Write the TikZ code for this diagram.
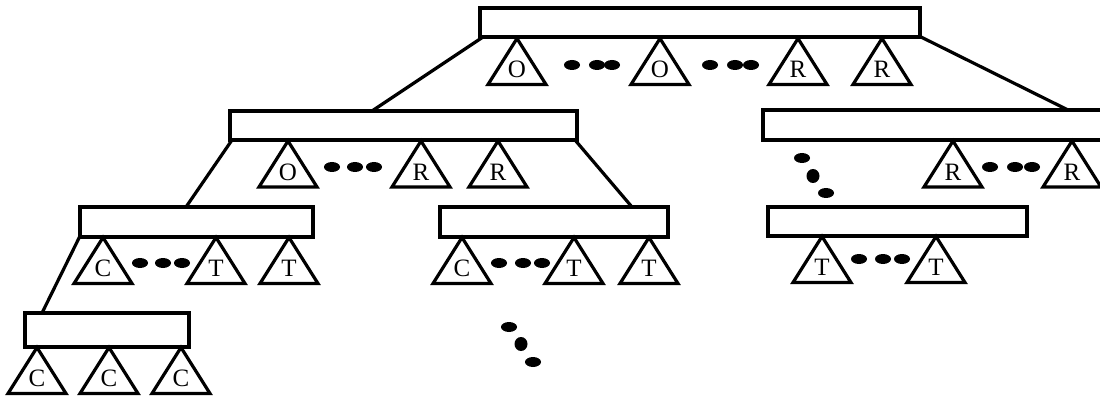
\documentclass[tikz,border=0pt]{standalone}
\usepackage{fontspec}
\setmainfont{Liberation Serif}
\usetikzlibrary{calc}
\tikzset{
  boxn/.style={draw, line width=3.2pt, fill=white, inner sep=0pt, outer sep=0pt},
  tri/.style={draw, line width=3.2pt, line join=miter},
  lab/.style={inner sep=0pt, font=\fontsize{25}{25}\selectfont},
  conn/.style={line width=3.2pt},
  hdot/.style={fill=black},
}
\newcommand\trig[3]{%
  \draw[tri] (#1,#2) -- ++(-29,46) -- ++(58,0) -- cycle;
  \node[lab] at (#1,#2+31) {#3};}
\newcommand\hd[2]{\fill[hdot] (#1,#2) ellipse [x radius=8pt, y radius=5pt];}
\newcommand\rd[2]{\fill[hdot] (#1,#2) ellipse [x radius=6.5pt, y radius=7pt];}
\begin{document}
\begin{tikzpicture}[x=1pt,y=-1pt]
\useasboundingbox (0,0) rectangle (1100,398);
\fill[white] (0,0) rectangle (1100,398);
\clip (0,0) rectangle (1100,398);
% boxes
\node[boxn, minimum width=440pt, minimum height=29pt] (b0) at (700,22.5) {};
\node[boxn, minimum width=347pt, minimum height=29pt] (b1) at (403.5,125.5) {};
\node[boxn, minimum width=340pt, minimum height=30pt] (b2) at (933,125) {};
\node[boxn, minimum width=233pt, minimum height=30pt] (b3) at (196.5,222) {};
\node[boxn, minimum width=228pt, minimum height=30pt] (b4) at (554,222) {};
\node[boxn, minimum width=259pt, minimum height=29pt] (b5) at (897.5,221.5) {};
\node[boxn, minimum width=164pt, minimum height=34pt] (b6) at (107,330) {};
% connectors
\draw[conn] ($(b0.south west)+(3,0)$) -- ($(b1.north west)+(142,0)$);
\draw[conn] ($(b0.south east)+(1,0)$) -- ($(b2.north west)+(305,0)$);
\draw[conn] ($(b1.south west)+(2,0)$) -- ($(b3.north west)+(106,0)$);
\draw[conn] ($(b1.south east)+(-2,0)$) -- ($(b4.north west)+(192,0)$);
\draw[conn] ($(b3.south west)+(0,-1)$) -- ($(b6.north west)+(17,0)$);
% row 1
\trig{517}{38.5}{O}
\trig{660}{38.5}{O}
\trig{798}{38.5}{R}
\trig{882}{38.5}{R}
\hd{572}{65}\hd{597}{65}\hd{612}{65}
\hd{710}{65}\hd{735}{65}\hd{751}{65}
% row 2 left
\trig{288}{141}{O}
\trig{421}{141}{R}
\trig{498}{141}{R}
\hd{332}{167}\hd{355}{167}\hd{374}{167}
% row 2 right
\trig{953}{141}{R}
\trig{1072}{141}{R}
\hd{990}{167}\hd{1015}{167}\hd{1032}{167}
\hd{802}{158}\rd{813}{176}\hd{826}{193}
% row 3
\trig{103}{237.5}{C}
\trig{216}{237.5}{T}
\trig{289}{237.5}{T}
\hd{140}{263}\hd{163}{263}\hd{182}{263}
\trig{462}{237.5}{C}
\trig{574}{237.5}{T}
\trig{649}{237.5}{T}
\hd{499}{263}\hd{523}{263}\hd{542}{263}
\trig{822}{236.5}{T}
\trig{936}{236.5}{T}
\hd{859}{259}\hd{883}{259}\hd{902}{259}
% row 4
\trig{37}{347.5}{C}
\trig{109}{347.5}{C}
\trig{181}{347.5}{C}
\hd{509}{327}\rd{521}{344}\hd{533}{362}
\end{tikzpicture}
\end{document}
